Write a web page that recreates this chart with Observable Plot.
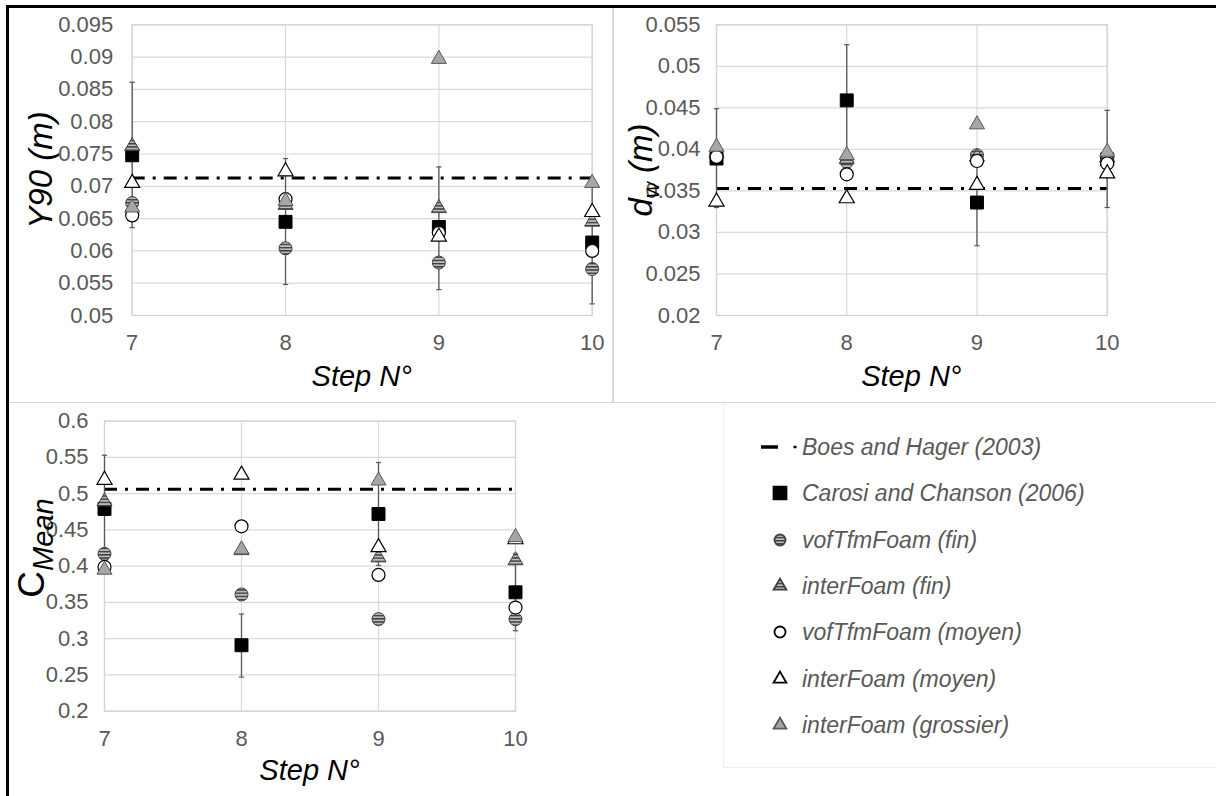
<!DOCTYPE html>
<html><head><meta charset="utf-8">
<script src="https://cdn.jsdelivr.net/npm/d3@7"></script>
<script src="https://cdn.jsdelivr.net/npm/@observablehq/plot@0.6"></script>
<style>
body{margin:0;background:#fff;}
#root{position:relative;width:1216px;height:796px;overflow:hidden;font-family:"Liberation Sans",Arial,sans-serif;background:#fff;}
.abs{position:absolute;}
.leg{position:absolute;left:802px;font-size:23px;font-style:italic;color:#595959;white-space:nowrap;transform:translateY(-50%);line-height:1;}
</style></head><body>
<svg width="0" height="0" style="position:absolute"><defs>
<pattern id="stripes" width="4" height="3.2" patternUnits="userSpaceOnUse"><rect width="4" height="3.2" fill="#bdbdbd"/><rect width="4" height="1.4" fill="#3a3a3a"/></pattern>
</defs></svg>
<div id="root"></div>
<script>
// ---- data ----
const steps = [7, 8, 9, 10];
const seriesNames = ["Boes and Hager (2003)", "Carosi and Chanson (2006)", "vofTfmFoam (fin)", "interFoam (fin)", "vofTfmFoam (moyen)", "interFoam (moyen)", "interFoam (grossier)"];

// Y90 (m)
const y90Ticks = [0.05, 0.055, 0.06, 0.065, 0.07, 0.075, 0.08, 0.085, 0.09, 0.095];
const y90Boes = 0.0713;
const y90Carosi = [0.0748, 0.0645, 0.0637, 0.0613];
const y90CarosiLo = [0.0636, 0.0548, 0.0540, 0.0518];
const y90CarosiHi = [0.0861, 0.0743, 0.0730, 0.0707];
const y90VofFin = [0.0674, 0.0604, 0.0582, 0.0572];
const y90InterFin = [0.0762, 0.0671, 0.0666, 0.0645];
const y90VofMoyen = [0.0655, 0.0680, 0.0628, 0.0600];
const y90InterMoyen = [0.0705, 0.0723, 0.0622, 0.0660];
const y90Grossier = [0.0667, 0.0677, 0.0897, 0.0705];

// dw (m)
const dwTicks = [0.02, 0.025, 0.03, 0.035, 0.04, 0.045, 0.05, 0.055];
const dwBoes = 0.0353;
const dwCarosi = [0.0389, 0.0459, 0.0336, 0.0388];
const dwCarosiLo = [0.0330, 0.0392, 0.0284, 0.0330];
const dwCarosiHi = [0.0449, 0.0526, 0.0388, 0.0447];
const dwVofFin = [0.0392, 0.0385, 0.0393, 0.0386];
const dwInterFin = [0.0395, 0.0388, 0.0391, 0.0390];
const dwVofMoyen = [0.0391, 0.0370, 0.0386, 0.0383];
const dwInterMoyen = [0.0337, 0.0341, 0.0357, 0.0371];
const dwGrossier = [0.0403, 0.0393, 0.0430, 0.0397];

// C Mean
const cTicks = [0.2, 0.25, 0.3, 0.35, 0.4, 0.45, 0.5, 0.55, 0.6];
const cBoes = 0.506;
const cCarosi = [0.479, 0.291, 0.472, 0.364];
const cCarosiLo = [0.405, 0.247, 0.401, 0.311];
const cCarosiHi = [0.553, 0.334, 0.543, 0.417];
const cVofFin = [0.417, 0.361, 0.327, 0.327];
const cInterFin = [0.489, 0.422, 0.412, 0.408];
const cVofMoyen = [0.399, 0.455, 0.388, 0.343];
const cInterMoyen = [0.519, 0.526, 0.426, 0.437];
const cGrossier = [0.395, 0.423, 0.518, 0.440];

// ---- styles ----
const FONT = '"Liberation Sans", Arial, sans-serif';
const styles = {
  carosi: {symbol: "square", r: 7.3, fill: "#000", stroke: "#000", strokeWidth: 1},
  vofFin: {symbol: "circle", r: 6.5, fill: "url(#stripes)", stroke: "#404040", strokeWidth: 1},
  interFin: {symbol: "triangle", r: 5.6, fill: "url(#stripes)", stroke: "#404040", strokeWidth: 1},
  vofMoyen: {symbol: "circle", r: 6.5, fill: "#fff", stroke: "#000", strokeWidth: 1.2},
  interMoyen: {symbol: "triangle", r: 5.6, fill: "#fff", stroke: "#000", strokeWidth: 1.2},
  grossier: {symbol: "triangle", r: 5.6, fill: "#a6a6a6", stroke: "#595959", strokeWidth: 1}
};
const capSymbol = {draw(ctx, size) { const w = Math.sqrt(size) / 2; ctx.moveTo(-w, 0); ctx.lineTo(w, 0); }};
const toRows = (vals) => steps.map((s, i) => ({step: s, v: vals[i]}));

function panel(o) {
  const bars = steps.map((s, i) => ({step: s, lo: o.lo[i], hi: o.hi[i]}));
  const order = [["carosi", o.carosi], ["vofFin", o.vofFin], ["interFin", o.interFin], ["vofMoyen", o.vofMoyen], ["interMoyen", o.interMoyen], ["grossier", o.grossier]];
  const svg = Plot.plot({
    width: o.width, height: o.height,
    marginLeft: o.ml, marginRight: o.mr, marginTop: o.mt, marginBottom: o.mb,
    style: {fontFamily: FONT, fontSize: "22px", color: "#595959", background: "transparent", overflow: "visible"},
    x: {domain: [7, 10], axis: null},
    y: {domain: [o.ticks[0], o.ticks[o.ticks.length - 1]], axis: null},
    marks: [
      Plot.gridY(o.ticks, {stroke: "#d9d9d9", strokeOpacity: 1, strokeWidth: 1.2}),
      Plot.gridX(steps, {stroke: "#d9d9d9", strokeOpacity: 1, strokeWidth: 1.2}),
      Plot.frame({stroke: "#d4d4d4", strokeWidth: 1.3}),
      Plot.axisY(o.ticks, {tickSize: 0, tickPadding: o.tp, tickFormat: d3.format("~g"), label: null, fill: "#595959", fontSize: 22}),
      Plot.axisX(steps, {tickSize: 0, tickPadding: 19, tickFormat: d => String(d), label: null, fill: "#595959", fontSize: 22}),
      Plot.ruleY([o.boes], {stroke: "#000", strokeWidth: 3, strokeDasharray: "13,8,3,8"}),
      Plot.ruleX(bars, {x: "step", y1: "lo", y2: "hi", stroke: "#595959", strokeWidth: 1.3}),
      Plot.dot(bars, {x: "step", y: "lo", symbol: capSymbol, r: 3, stroke: "#595959", strokeWidth: 1.2}),
      Plot.dot(bars, {x: "step", y: "hi", symbol: capSymbol, r: 3, stroke: "#595959", strokeWidth: 1.2}),
      ...order.map(([k, vals]) => Plot.dot(toRows(vals), {x: "step", y: "v", ...styles[k]}))
    ]
  });
  const g = d3.select(svg);
  g.append("text").attr("x", o.ml + (o.width - o.ml - o.mr) / 2).attr("y", o.xTitleY)
    .attr("text-anchor", "middle").attr("font-size", 29).attr("font-style", "italic").attr("fill", "#000")
    .attr("font-family", FONT).text("Step N°");
  const t = g.append("text").attr("transform", `translate(${o.yTitleX},${o.yTitleY}) rotate(-90)`)
    .attr("text-anchor", "middle").attr("fill", "#000").attr("font-family", FONT).attr("font-style", "italic").attr("font-size", 33);
  o.yTitle(t);
  return svg;
}

const root = document.getElementById("root");
function place(el, left, top) { el.style.position = "absolute"; el.style.left = left + "px"; el.style.top = top + "px"; root.appendChild(el); }

place(panel({
  width: 612, height: 400, ml: 131.7, mr: 20.3, mt: 24.3, mb: 85, tp: 19,
  ticks: y90Ticks, boes: y90Boes, lo: y90CarosiLo, hi: y90CarosiHi,
  carosi: y90Carosi, vofFin: y90VofFin, interFin: y90InterFin, vofMoyen: y90VofMoyen, interMoyen: y90InterMoyen, grossier: y90Grossier,
  xTitleY: 386, yTitleX: 52, yTitleY: 170,
  yTitle: t => t.text("Y90 (m)")
}), 0, 0);

place(panel({
  width: 604, height: 400, ml: 104, mr: 109.3, mt: 24.3, mb: 85, tp: 16,
  ticks: dwTicks, boes: dwBoes, lo: dwCarosiLo, hi: dwCarosiHi,
  carosi: dwCarosi, vofFin: dwVofFin, interFin: dwInterFin, vofMoyen: dwVofMoyen, interMoyen: dwInterMoyen, grossier: dwGrossier,
  xTitleY: 386, yTitleX: 40, yTitleY: 170,
  yTitle: t => { t.append("tspan").text("d"); t.append("tspan").attr("font-size", 22).attr("dy", 7).text("w"); t.append("tspan").attr("dy", -7).text(" (m)"); }
}), 612, 0);

place(panel({
  width: 612, height: 396, ml: 104, mr: 97, mt: 20.7, mb: 85.3, tp: 16,
  ticks: cTicks, boes: cBoes, lo: cCarosiLo, hi: cCarosiHi,
  carosi: cCarosi, vofFin: cVofFin, interFin: cInterFin, vofMoyen: cVofMoyen, interMoyen: cInterMoyen, grossier: cGrossier,
  xTitleY: 380, yTitleX: 44, yTitleY: 148,
  yTitle: t => { t.attr("font-style", null); t.append("tspan").attr("font-size", 37).text("C"); t.append("tspan").attr("font-size", 29).attr("font-style", "italic").attr("dy", 9).text("Mean"); }
}), 0, 400);

// frame lines
function line(l, t, w, h, c) { const d = document.createElement("div"); d.className = "abs"; Object.assign(d.style, {left: l + "px", top: t + "px", width: w + "px", height: h + "px", background: c}); root.appendChild(d); }
line(612, 8, 1.5, 394, "#d9d9d9");
line(9, 401.5, 1207, 1.5, "#d9d9d9");
line(723, 403, 1, 364, "#eeeeee");
line(723, 767, 493, 1, "#eeeeee");
line(6, 5, 1210, 3, "#000");
line(6, 5, 3, 791, "#000");

// legend
const legY = 446.7, legStep = 46.4;
const legKeys = [null, "carosi", "vofFin", "interFin", "vofMoyen", "interMoyen", "grossier"];
seriesNames.forEach((name, i) => {
  const y = legY + i * legStep;
  const sv = d3.create("svg").attr("width", 50).attr("height", 24)
    .style("position", "absolute").style("left", "755px").style("top", y + "px").style("transform", "translateY(-50%)");
  const k = legKeys[i];
  if (!k) {
    sv.append("line").attr("x1", 6).attr("x2", 23).attr("y1", 12).attr("y2", 12).attr("stroke", "#000").attr("stroke-width", 3.5);
    sv.append("line").attr("x1", 38.5).attr("x2", 41.5).attr("y1", 12).attr("y2", 12).attr("stroke", "#000").attr("stroke-width", 2.5);
  } else {
    const s = styles[k];
    const symMap = {square: d3.symbolSquare, circle: d3.symbolCircle, triangle: d3.symbolTriangle};
    const scale = k === "carosi" ? 1 : 0.85;
    const r = s.r * scale;
    sv.append("path").attr("transform", "translate(25,12)")
      .attr("d", d3.symbol(symMap[s.symbol], Math.PI * r * r)())
      .attr("fill", s.fill).attr("stroke", k === "interMoyen" || k === "vofMoyen" ? "#000" : s.stroke).attr("stroke-width", 1.8);
  }
  root.appendChild(sv.node());
  const d = document.createElement("div"); d.className = "leg"; d.style.top = y + "px"; d.textContent = name; root.appendChild(d);
});
</script></body></html>
